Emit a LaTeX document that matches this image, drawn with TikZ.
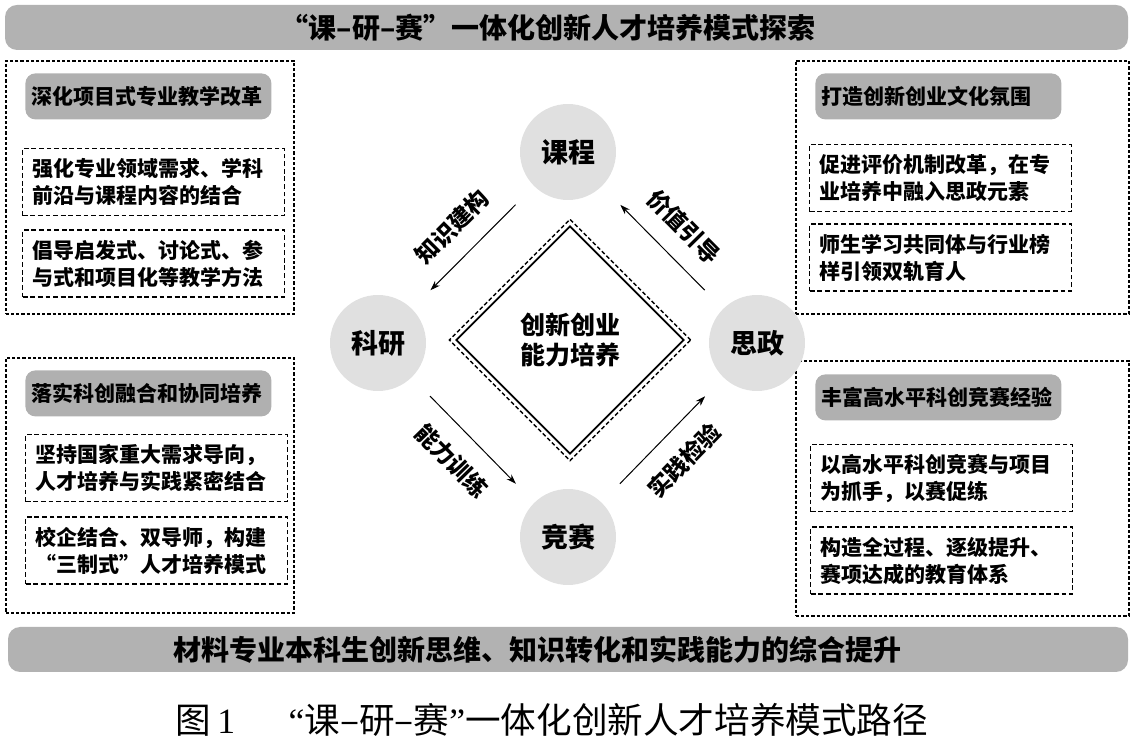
\documentclass[tikz,border=0pt]{standalone}
\usepackage{fontspec}
\setmainfont{Noto Sans CJK SC}
\newfontfamily\numfont{Liberation Serif}
\usetikzlibrary{arrows.meta,positioning,shapes.geometric}

\definecolor{bargray}{gray}{0.70}
\definecolor{headgray}{gray}{0.69}
\definecolor{hubgray}{gray}{0.88}
% 全角引号
\newcommand{\fwq}[1]{{\addfontfeature{RawFeature=+fwid}#1}}

\tikzset{
    bar/.style={fill=bargray, rounded corners=6pt, minimum height=22.5pt, inner sep=0pt},
    bartext/.style={font=\fontsize{14}{16}\selectfont\bfseries},
    panel/.style={draw, line width=0.8pt, dash pattern=on 1.6pt off 1pt, anchor=north west, minimum height=126.5pt, inner sep=0pt},
    headbox/.style={fill=headgray, rounded corners=5pt, anchor=north west, minimum height=23pt, text width=117pt, inner xsep=3pt, align=left, font=\fontsize{10.5}{13}\selectfont\bfseries},
    subbox/.style={draw, line width=0.7pt, dash pattern=on 2.4pt off 1.4pt, anchor=north west, minimum height=33.5pt, text width=121.5pt, inner xsep=4.75pt, align=left, font=\fontsize{10.5}{13.5}\selectfont\bfseries},
    hub/.style={circle, fill=hubgray, minimum size=48pt, inner sep=0pt, font=\fontsize{13.5}{16}\selectfont\bfseries},
    flow/.style={-{Stealth[length=5pt,width=3.4pt]}, line width=0.5pt, shorten >=13pt, shorten <=13pt},
    flowlabel/.style={midway, sloped, inner sep=1pt, font=\fontsize{11.5}{14}\selectfont\bfseries},
}

\begin{document}
\begin{tikzpicture}[x=0.5pt, y=-0.5pt]
    \useasboundingbox (0,0) rectangle (1130,742);

    % 标题栏
    \node[bar, minimum width=561.5pt] (title) at (566.5,27.5) {};
    \node[bartext] (titletext) at (548,28) {\fwq{“}课–研–赛\fwq{”}一体化创新人才培养模式探索};

    % 左上
    \node[panel, minimum width=144pt] (ltpanel) at (5,60) {};
    \node[headbox] (lthead) at (25,73) {深化项目式专业教学改革};
    \node[subbox] (lt1) at (22,148) {强化专业领域需求、学科\\前沿与课程内容的结合};
    \node[subbox, below=6.5pt of lt1] (lt2) {倡导启发式、讨论式、参\\与式和项目化等教学方法};

    % 右上
    \node[panel, minimum width=166.5pt] (rtpanel) at (795,60) {};
    \node[headbox] (rthead) at (815,73) {打造创新创业文化氛围};
    \node[subbox] (rt1) at (809,144) {促进评价机制改革，在专\\业培养中融入思政元素};
    \node[subbox, below=5.5pt of rt1] (rt2) {师生学习共同体与行业榜\\样引领双轨育人};

    % 左下
    \node[panel, minimum width=144pt, minimum height=127.5pt] (lbpanel) at (5,357) {};
    \node[headbox] (lbhead) at (25,370) {落实科创融合和协同培养};
    \node[subbox] (lb1) at (25,434) {坚持国家重大需求导向，\\人才培养与实践紧密结合};
    \node[subbox, below=7pt of lb1] (lb2) {校企结合、双导师，构建\\\fwq{“}三制式\fwq{”}人才培养模式};

    % 右下
    \node[panel, minimum width=166.5pt, minimum height=127.5pt] (rbpanel) at (795,360) {};
    \node[headbox] (rbhead) at (815,374) {丰富高水平科创竞赛经验};
    \node[subbox] (rb1) at (810,444) {以高水平科创竞赛与项目\\为抓手，以赛促练};
    \node[subbox, below=7pt of rb1] (rb2) {构造全过程、逐级提升、\\赛项达成的教育体系};

    % 中心菱形
    \node[diamond, draw, dash pattern=on 2pt off 1.2pt, line width=0.7pt, minimum size=121pt, inner sep=0pt] (coreouter) at (570,340) {};
    \node[diamond, draw, line width=0.9pt, minimum size=114pt, inner sep=0pt, align=center,
          font=\fontsize{12.5}{15}\selectfont\bfseries] (core) at (570,340) {创新创业\\能力培养};

    % 四个环节
    \foreach \n/\x/\y/\t in {kc/568/152/课程, ky/378/343/科研, sz/757/343/思政, js/568/537/竞赛}
        \node[hub] (\n) at (\x,\y) {\t};

    % 环节之间的箭头
    \draw[flow] (kc) -- node[flowlabel, above=8pt] {知识建构} (ky);
    \draw[flow] (sz) -- node[flowlabel, above=8pt] {价值引导} (kc);
    \draw[flow] (ky) -- node[flowlabel, below=8pt] {能力训练} (js);
    \draw[flow] (js) -- node[flowlabel, below=8pt] {实践检验} (sz);

    % 底栏
    \node[bar, minimum width=560pt] (goal) at (568,649.5) {};
    \node[bartext] (goaltext) at (537,650) {材料专业本科生创新思维、知识转化和实践能力的综合提升};

    % 图题
    \node[font=\fontsize{17.8}{20}\selectfont] (caption) at (552,720) {图\,{\numfont 1}\hspace{1.5em}{\numfont “}课–研–赛{\numfont ”}一体化创新人才培养模式路径};
\end{tikzpicture}
\end{document}
